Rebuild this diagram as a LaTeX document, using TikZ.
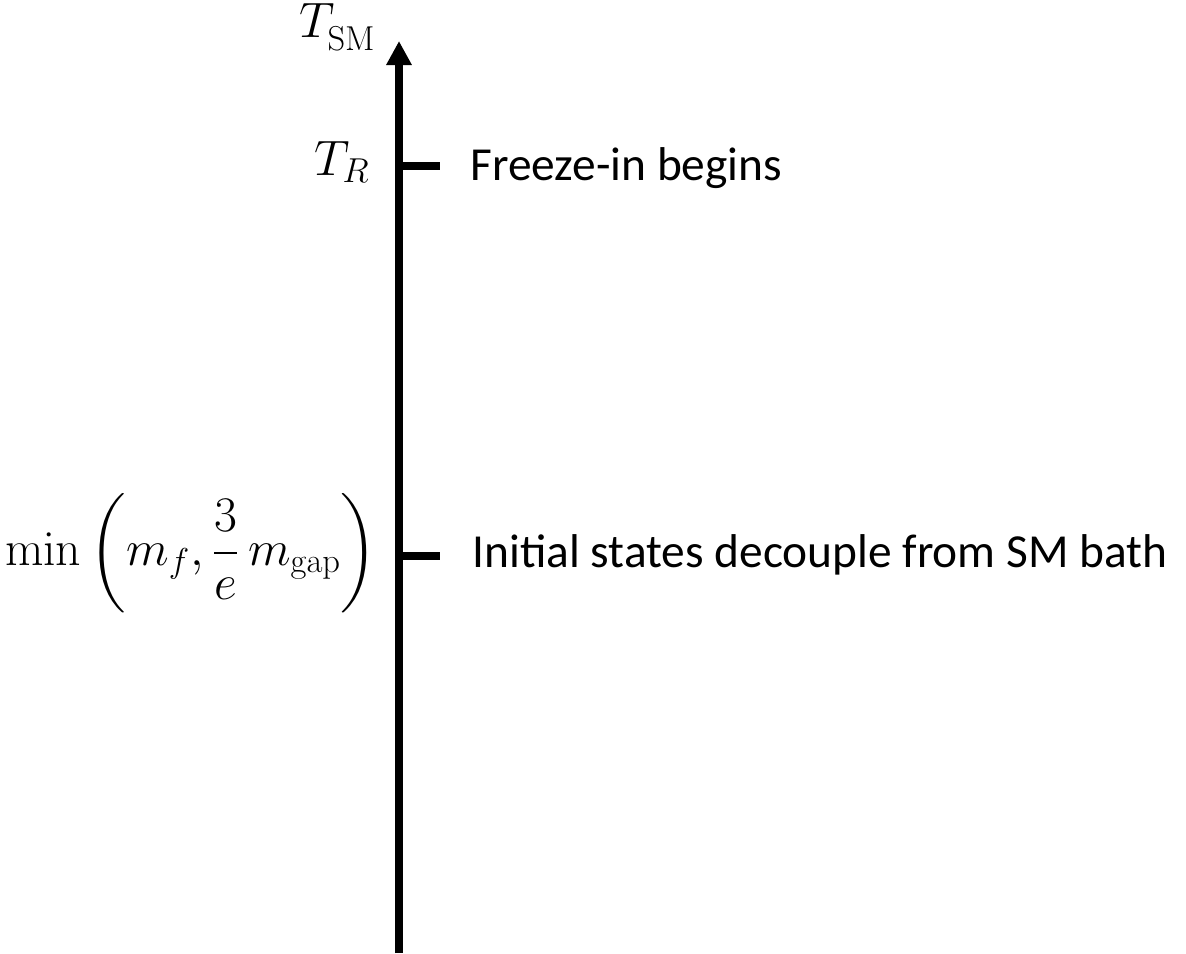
\documentclass[tikz,border=0pt]{standalone}
\usepackage{amsmath}
\usepackage[no-math]{fontspec}
\setmainfont{Carlito}
\usetikzlibrary{arrows.meta}

\begin{document}
\begin{tikzpicture}[x=0.5pt, y=-0.5pt,
  axis/.style={line width=4pt, -{Triangle[length=12pt,width=12pt]}},
  tick/.style={line width=4pt},
  lab/.style={inner sep=0pt, font=\fontsize{23.7}{28}\selectfont},
  mlab/.style={inner sep=0pt, font=\fontsize{24}{28}\selectfont}]
\useasboundingbox (0,0) rectangle (1186,953);
% temperature axis
\coordinate (bot) at (399,953);
\coordinate (top) at (399,41);
\draw[axis] (bot) -- (top);
\node[mlab, anchor=base east] (tsm) at (376,37) {$T_{\raisebox{-0.25ex}{$\scriptstyle\mathrm{SM}$}}$};
% freeze-in
\coordinate (tr) at (399,166);
\draw[tick] (tr) -- ++(41,0);
\node[mlab, anchor=base east] (trlab) at (370,175) {$T_R$};
\node[lab, anchor=west] (frz) at (470,168) {Freeze-in begins};
% decoupling
\coordinate (tmin) at (399,556);
\draw[tick] (tmin) -- ++(41,0);
\node[mlab, font=\fontsize{23}{28}\selectfont, anchor=east] (minlab) at (378,553)
  {$\displaystyle \min\left(m_f,\frac{3}{e}\,m_{\mathrm{gap}}\right)$};
\node[lab, anchor=west] (dec) at (472,555) {Initial states decouple from SM bath};
\end{tikzpicture}
\end{document}
